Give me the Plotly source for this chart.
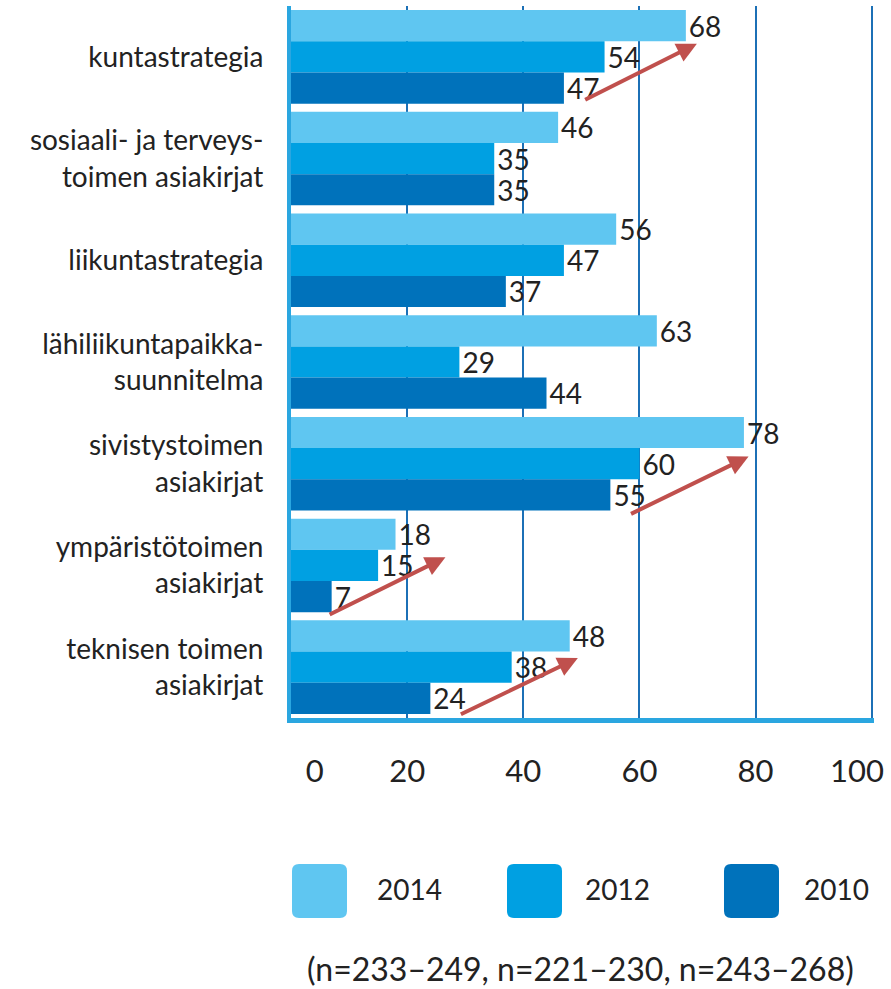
import plotly.graph_objects as go

categories = [
    "kuntastrategia",
    "sosiaali- ja terveys-<br>toimen asiakirjat",
    "liikuntastrategia",
    "lähiliikuntapaikka-<br>suunnitelma",
    "sivistystoimen<br>asiakirjat",
    "ympäristötoimen<br>asiakirjat",
    "teknisen toimen<br>asiakirjat",
]
years = ["2014", "2012", "2010"]
values_2014 = [68, 46, 56, 63, 78, 18, 48]
values_2012 = [54, 35, 47, 29, 60, 15, 38]
values_2010 = [47, 35, 37, 44, 55, 7, 24]
x_ticks = [0, 20, 40, 60, 80, 100]
x_ticktext = ["\u00a0" * 6 + "0", "20", "40", "60", "80", ""]
last_tick_label = "100"
note_text = "(n=233–249, n=221–230, n=243–268)"

colors = ["#5FC6F1", "#00A0E2", "#0072BB"]
FONT = "Lato"

W, H = 891, 989
ML, MR, MT, MB = 291, 17, 6, 271
PW, PH = W - ML - MR, H - MT - MB


def px_to_paper(px, py):
    return (px - ML) / PW, (H - MB - py) / PH


fig = go.Figure()
for name, vals, col in zip(years, [values_2014, values_2012, values_2010], colors):
    fig.add_trace(go.Bar(
        name=name, y=categories, x=vals, orientation="h",
        marker=dict(color=col, line=dict(width=0)),
        text=vals, texttemplate="%{x}", textposition="outside",
        textfont=dict(family=FONT, size=28, color="#222222"),
        constraintext="none", cliponaxis=False, showlegend=False,
    ))

# red trend arrows (tail -> head, in data units)
arrows = [
    ((50.4, 0.43), (69.9, -0.13)),
    ((58.3, 4.50), (78.8, 3.93)),
    ((6.4, 5.49), (26.6, 4.92)),
    ((29.0, 6.47), (49.4, 5.91)),
]
annotations = []
for (tx, ty), (hx, hy) in arrows:
    annotations.append(dict(
        x=hx, y=hy, ax=tx, ay=ty, xref="x", yref="y", axref="x", ayref="y",
        showarrow=True, arrowhead=2, arrowsize=1.0, arrowwidth=4,
        arrowcolor="#C0504D", text="",
    ))

# last x tick label, kept inside the page edge
_, ty100 = px_to_paper(0, 770)
annotations.append(dict(x=x_ticks[-1], y=ty100, xref="x", yref="paper",
                        text=last_tick_label, showarrow=False,
                        xanchor="right", yanchor="middle", xshift=14,
                        font=dict(family=FONT, size=31, color="#222222")))

# legend built from rounded squares + labels
shapes = []
legend_boxes = [(292, 347), (507, 562), (724, 779)]
legend_text_x = [409, 617, 836]
r = 7
for (x0p, x1p), col, yr, tx in zip(legend_boxes, colors, years, legend_text_x):
    y0p, y1p = 864, 918

    def P(a, b):
        xx, yy = px_to_paper(a, b)
        return f"{xx:.5f},{yy:.5f}"
    path = (f"M {P(x0p + r, y0p)} L {P(x1p - r, y0p)} Q {P(x1p, y0p)} {P(x1p, y0p + r)} "
            f"L {P(x1p, y1p - r)} Q {P(x1p, y1p)} {P(x1p - r, y1p)} "
            f"L {P(x0p + r, y1p)} Q {P(x0p, y1p)} {P(x0p, y1p - r)} "
            f"L {P(x0p, y0p + r)} Q {P(x0p, y0p)} {P(x0p + r, y0p)} Z")
    shapes.append(dict(type="path", path=path, xref="paper", yref="paper",
                       fillcolor=col, line=dict(width=0)))
    ax_, ay_ = px_to_paper(tx, 889)
    annotations.append(dict(x=ax_, y=ay_, xref="paper", yref="paper", text=yr,
                            showarrow=False, xanchor="center", yanchor="middle",
                            font=dict(family=FONT, size=28, color="#222222")))

nx, ny = px_to_paper(580, 968)
annotations.append(dict(x=nx, y=ny, xref="paper", yref="paper", text=note_text,
                        showarrow=False, xanchor="center", yanchor="middle",
                        font=dict(family=FONT, size=32, color="#222222")))

fig.update_layout(
    width=W, height=H,
    margin=dict(l=ML, r=MR, t=MT, b=MB, autoexpand=False),
    paper_bgcolor="white", plot_bgcolor="white",
    barmode="group", bargap=0.08, bargroupgap=0,
    font=dict(family=FONT, color="#222222"),
    annotations=annotations, shapes=shapes,
    xaxis=dict(range=[0, 100.4], tickvals=x_ticks, ticktext=x_ticktext,
               showgrid=True, gridcolor="#1C70B6", gridwidth=2, zeroline=False,
               showline=True, linecolor="#2AA6E0", linewidth=5,
               ticks="", ticklabelstandoff=22, automargin=False,
               ticklabeloverflow="allow",
               tickfont=dict(family=FONT, size=31, color="#222222")),
    yaxis=dict(range=[6.5, -0.5], showgrid=False, zeroline=False,
               showline=True, linecolor="#2AA6E0", linewidth=4,
               ticks="", ticklabelstandoff=18, automargin=False,
               tickfont=dict(family=FONT, size=28, color="#222222")),
)

fig.write_html(
    "out.html",
    config={"displayModeBar": False},
    post_script="document.body.style.margin='0';document.body.style.padding='0';"
                "document.body.style.overflow='hidden';",
)
